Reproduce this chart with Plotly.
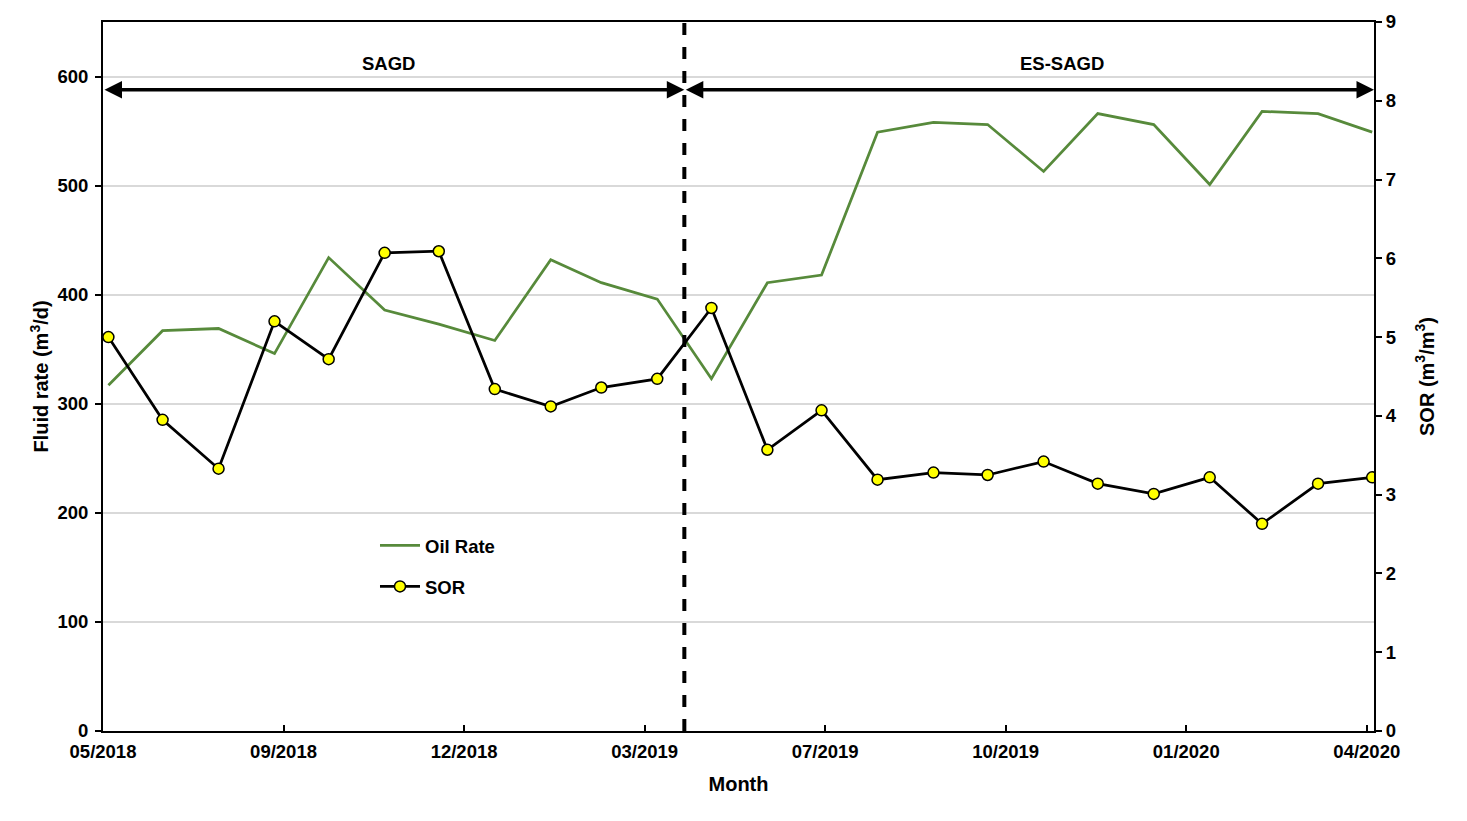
import plotly.graph_objects as go

# ---- data ----
months = ["2018-05-31", "2018-06-30", "2018-07-31", "2018-08-31", "2018-09-30", "2018-10-31",
          "2018-11-30", "2018-12-31", "2019-01-31", "2019-02-28", "2019-03-31", "2019-04-30",
          "2019-05-31", "2019-06-30", "2019-07-31", "2019-08-31", "2019-09-30", "2019-10-31",
          "2019-11-30", "2019-12-31", "2020-01-31", "2020-02-29", "2020-03-31", "2020-04-30"]
oil_rate = [317, 367, 369, 346, 434, 386, 373, 358, 432, 411, 396, 323,
            411, 418, 549, 558, 556, 513, 566, 556, 501, 568, 566, 549]
sor = [5.00, 3.95, 3.33, 5.20, 4.72, 6.07, 6.09, 4.34, 4.12, 4.36, 4.47, 5.37,
       3.57, 4.07, 3.19, 3.28, 3.25, 3.42, 3.14, 3.01, 3.22, 2.63, 3.14, 3.22]

tick_dates = ["2018-05-28", "2018-09-05", "2018-12-14", "2019-03-24",
              "2019-07-02", "2019-10-10", "2020-01-18", "2020-04-27"]
tick_labels = ["05/2018", "09/2018", "12/2018", "03/2019",
               "07/2019", "10/2019", "01/2020", "04/2020"]
x_range = ["2018-05-28", "2020-05-01"]
phase_split = "2019-04-15"
phase_names = ["SAGD", "ES-SAGD"]
phase_label_dates = ["2018-11-02", "2019-11-10"]
arrow_level = 588
label_level = 612

FONT = "Arial, Liberation Sans, sans-serif"
bold18 = dict(family=FONT, size=18.5, color="black", weight="bold")
bold20 = dict(family=FONT, size=20, color="black", weight="bold")

fig = go.Figure()
fig.add_trace(go.Scatter(x=months, y=oil_rate, name="Oil Rate", mode="lines",
                         line=dict(color="#578A3B", width=2.75), legendgroup="a"))
fig.add_trace(go.Scatter(x=months, y=sor, name="SOR", mode="lines+markers", yaxis="y2",
                         line=dict(color="black", width=2.75),
                         marker=dict(symbol="circle", size=11, color="#FFFF00",
                                     line=dict(color="black", width=1.5)),
                         legendgroup="b"))

# phase divider
fig.add_shape(type="line", xref="x", yref="paper", x0=phase_split, x1=phase_split, y0=0, y1=1,
              line=dict(color="black", width=4, dash="dash"))

# double-headed arrows
for x0, x1 in [(x_range[0], phase_split), (phase_split, x_range[1])]:
    fig.add_annotation(x=x1, y=arrow_level, ax=x0, ay=arrow_level, xref="x", yref="y",
                       axref="x", ayref="y", text="", showarrow=True,
                       arrowhead=2, arrowsize=1.0, arrowwidth=3.5, arrowcolor="black",
                       arrowside="end+start", startarrowhead=2, startarrowsize=1.0)

for name, d in zip(phase_names, phase_label_dates):
    fig.add_annotation(x=d, y=label_level, xref="x", yref="y", text=name, showarrow=False,
                       font=bold18)

fig.update_layout(
    width=1451, height=805,
    margin=dict(l=95, r=85, t=14, b=82),
    paper_bgcolor="white", plot_bgcolor="white",
    font=bold18,
    showlegend=True,
    legend=dict(x=0.214, y=0.288, xanchor="left", yanchor="top", bgcolor="rgba(0,0,0,0)",
                font=bold18, tracegroupgap=14, traceorder="grouped", itemwidth=40),
    xaxis=dict(type="date", range=x_range, tickvals=tick_dates, ticktext=tick_labels,
               ticks="inside", ticklen=6, tickwidth=1.5, tickcolor="black",
               showline=True, linecolor="black", linewidth=2, mirror=True,
               showgrid=False, zeroline=False, tickfont=bold18, ticklabelstandoff=3,
               title=dict(text="Month", font=bold20, standoff=16), automargin=False),
    yaxis=dict(range=[0, 650], tickvals=[0, 100, 200, 300, 400, 500, 600],
               ticks="outside", ticklen=6, tickwidth=1.5, tickcolor="black",
               showline=True, linecolor="black", linewidth=2,
               showgrid=True, gridcolor="#D9D9D9", gridwidth=1.5, zeroline=False,
               tickfont=bold18, ticklabelstandoff=3,
               title=dict(text="Fluid rate (m<sup>3</sup>/d)", font=bold20, standoff=3),
               automargin=False),
    yaxis2=dict(range=[0, 9], tickvals=list(range(0, 10)), overlaying="y", side="right",
                ticks="outside", ticklen=6, tickwidth=1.5, tickcolor="black",
                showline=True, linecolor="black", linewidth=2,
                showgrid=False, zeroline=False, tickfont=bold18,
                title=dict(text="SOR (m<sup>3</sup>/m<sup>3</sup>)", font=bold20, standoff=24),
                automargin=False),
)

fig.write_html("out.html")
